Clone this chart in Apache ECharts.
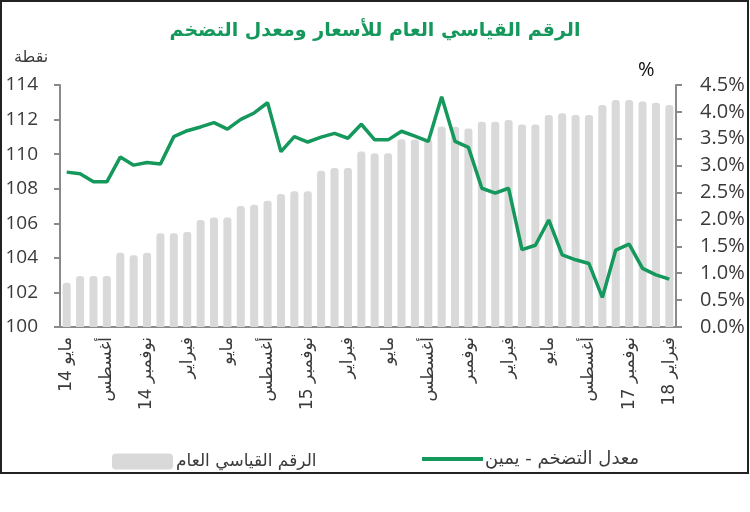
<!DOCTYPE html>
<html>
<head>
<meta charset="utf-8">
<script src="https://cdn.jsdelivr.net/npm/echarts@6/dist/echarts.min.js"></script>
<style>
  html, body { margin: 0; padding: 0; background: #fff; }
  #chart { width: 750px; height: 512px; }
</style>
</head>
<body>
<div id="chart"></div>
<script>
// شهري: مايو 2014 - فبراير 2018
var tickLabels = ["مايو 14", "أغسطس", "نوفمبر 14", "فبراير", "مايو", "أغسطس", "نوفمبر 15", "فبراير",
    "مايو", "أغسطس", "نوفمبر", "فبراير", "مايو", "أغسطس", "نوفمبر 17", "فبراير 18"];

// الرقم القياسي العام (يسار)
var cpiIndex = [102.56, 102.95, 102.95, 102.95, 104.3, 104.15, 104.3, 105.42, 105.42, 105.5,
    106.19, 106.34, 106.34, 107.0, 107.07, 107.3, 107.69, 107.85, 107.85, 109.04,
    109.2, 109.2, 110.15, 110.05, 110.05, 110.86, 110.85, 110.85, 111.6, 111.59,
    111.49, 111.88, 111.88, 111.97, 111.72, 111.72, 112.26, 112.36, 112.26, 112.26,
    112.84, 113.13, 113.13, 113.05, 112.97, 112.84];

// معدل التضخم % (يمين)
var inflation = [2.88, 2.85, 2.70, 2.70, 3.16, 3.01, 3.06, 3.03, 3.54, 3.65,
    3.72, 3.80, 3.68, 3.86, 3.98, 4.17, 3.26, 3.54, 3.44, 3.53,
    3.60, 3.51, 3.77, 3.48, 3.48, 3.64, 3.55, 3.45, 4.28, 3.45,
    3.34, 2.58, 2.49, 2.58, 1.44, 1.52, 1.99, 1.34, 1.25, 1.18,
    0.55, 1.43, 1.54, 1.09, 0.97, 0.89];

var months = [];
for (var i = 0; i < cpiIndex.length; i++) {
    months.push("m" + i);
}

var green = "#15985c";
var axisGray = "#8a8a8a";
var txt = "#3a3a3a";

var chart = echarts.init(document.getElementById("chart"));
chart.setOption({
    animation: false,
    title: {
        text: "الرقم القياسي العام للأسعار ومعدل التضخم",
        left: "center",
        top: 17,
        textStyle: { fontFamily: "DejaVu Sans", fontSize: 19, fontWeight: "bold", color: green }
    },
    legend: [{
        data: ["الرقم القياسي العام"],
        left: 107,
        top: 448,
        itemWidth: 61,
        itemHeight: 16,
        itemGap: 0,
        icon: "roundRect",
        textStyle: { fontFamily: "DejaVu Sans", fontSize: 17, color: txt, padding: [0, 0, 0, -2] }
    }, {
        data: ["معدل التضخم - يمين"],
        left: 417,
        top: 445,
        itemWidth: 61,
        itemHeight: 4,
        icon: "rect",
        textStyle: { fontFamily: "DejaVu Sans", fontSize: 18, color: txt, padding: [0, 0, 0, -3] }
    }],
    grid: { left: 60, right: 74, top: 85, bottom: 185 },
    xAxis: {
        type: "category",
        data: months,
        boundaryGap: true,
        axisLine: { lineStyle: { color: axisGray, width: 2 } },
        axisTick: { interval: 2, length: 6, lineStyle: { color: axisGray, width: 2 } },
        axisLabel: {
            interval: 2,
            rotate: 90,
            margin: 10,
            fontFamily: "DejaVu Sans",
            fontSize: 17,
            color: txt,
            formatter: function (v, idx) { return tickLabels[idx / 3]; }
        }
    },
    yAxis: [{
        type: "value",
        min: 100,
        max: 114,
        interval: 2,
        axisLine: { show: true, lineStyle: { color: axisGray, width: 2 } },
        axisTick: { show: true, length: 6, lineStyle: { color: axisGray, width: 2 } },
        splitLine: { show: false },
        axisLabel: { fontFamily: "Open Sans", fontSize: 19, color: txt, margin: 22 }
    }, {
        type: "value",
        min: 0,
        max: 4.5,
        interval: 0.5,
        position: "right",
        axisLine: { show: true, lineStyle: { color: axisGray, width: 2 } },
        axisTick: { show: true, length: 6, lineStyle: { color: axisGray, width: 2 } },
        splitLine: { show: false },
        axisLabel: {
            fontFamily: "Open Sans", fontSize: 20, color: txt, margin: 24,
            formatter: function (v) { return v.toFixed(1) + "%"; }
        }
    }],
    graphic: [{
        type: "text",
        left: 14,
        top: 50,
        style: { text: "نقطة", font: "16px 'DejaVu Sans'", fill: txt }
    }, {
        type: "text",
        left: 638,
        top: 60,
        style: { text: "%", font: "20px 'Open Sans'", fill: "#111" }
    }, {
        type: "rect",
        shape: { x: 1, y: 1, width: 747, height: 472 },
        style: { fill: "none", stroke: "#222", lineWidth: 2 },
        silent: true
    }],
    series: [{
        name: "الرقم القياسي العام",
        type: "bar",
        yAxisIndex: 0,
        data: cpiIndex,
        barWidth: "60%",
        itemStyle: { color: "#d9d9d9", borderRadius: [3, 3, 0, 0] }
    }, {
        name: "معدل التضخم - يمين",
        type: "line",
        yAxisIndex: 1,
        data: inflation,
        symbol: "none",
        lineStyle: { color: green, width: 3.5 },
        itemStyle: { color: green },
        z: 5
    }]
});
</script>
</body>
</html>
